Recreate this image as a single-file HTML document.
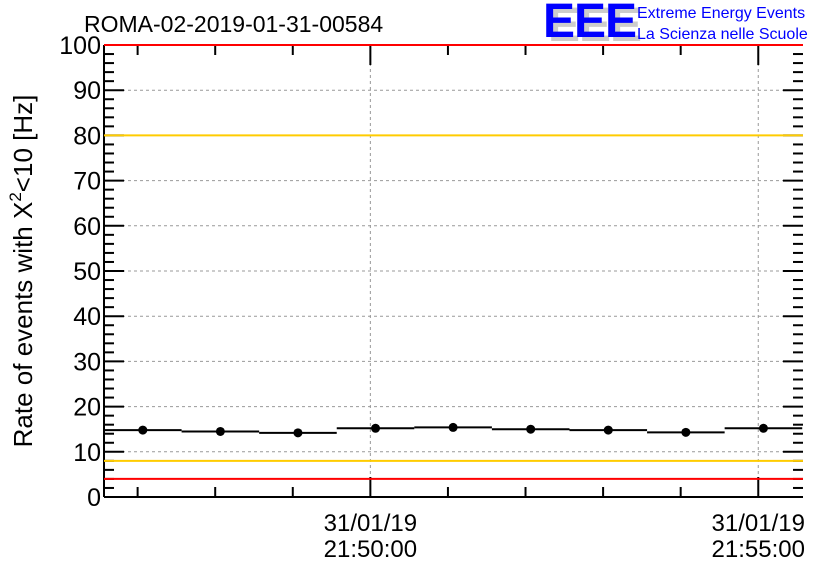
<!DOCTYPE html>
<html><head><meta charset="utf-8"><style>
body{margin:0;background:#fff;width:836px;height:572px;overflow:hidden}
text{font-family:"Liberation Sans",sans-serif}
</style></head><body>
<svg id="chart" width="836" height="572" xmlns="http://www.w3.org/2000/svg">
<text x="84" y="32" font-size="23">ROMA-02-2019-01-31-00584</text>
<g>
<text x="548" y="41" font-size="48" font-weight="bold" fill="#ccc" letter-spacing="-1">EEE</text>
<text x="543" y="37" font-size="48" font-weight="bold" fill="#0000ff" letter-spacing="-1">EEE</text>
<text x="637" y="18" font-size="16" fill="#0000ff">Extreme Energy Events</text>
<text x="637" y="39" font-size="16" fill="#0000ff">La Scienza nelle Scuole</text>
</g>
<text transform="translate(32,271) rotate(-90)" text-anchor="middle" font-size="26">Rate of events with X<tspan dy="-11" font-size="17">2</tspan><tspan dy="11">&lt;10 [Hz]</tspan></text>
<g id="grid"></g><g id="axes"></g><g id="marks"></g>
</svg>
<script>
const binStarts = [-206, -146, -86, -26, 34, 94, 154, 214, 274]; // seconds rel. 21:50:00
const rates = [14.8, 14.5, 14.2, 15.2, 15.4, 15.0, 14.8, 14.3, 15.2];
const yTicks = [0,10,20,30,40,50,60,70,80,90,100];
const xMajor = [0, 300];
const xDates = ["31/01/19","31/01/19"];
const xTimes = ["21:50:00","21:55:00"];
const hLines = [{v:100,c:"#ff0000"},{v:80,c:"#ffcc00"},{v:8,c:"#ffcc00"},{v:4,c:"#ff0000"}];
const X0=104,X1=803,Y0=497,Y1=45;
const tMin=-206,tMax=334.6;
const xs=t=>X0+(t-tMin)/(tMax-tMin)*(X1-X0);
const ys=v=>Y0-v/100*(Y0-Y1);
const NS="http://www.w3.org/2000/svg";
function mk(tag,attrs,parent){const e=document.createElementNS(NS,tag);for(const k in attrs)e.setAttribute(k,attrs[k]);parent.appendChild(e);return e;}
const grid=document.getElementById('grid'),axes=document.getElementById('axes'),marks=document.getElementById('marks');
yTicks.forEach(v=>{if(v>0&&v<100){const g=mk('line',{x1:X0,x2:X1,y1:ys(v),y2:ys(v),stroke:'#999','stroke-dasharray':'3,3'},grid);

}});
xMajor.forEach(t=>{const g=mk('line',{x1:xs(t),x2:xs(t),y1:Y1,y2:Y0,stroke:'#999','stroke-dasharray':'3,3'},grid);

});
hLines.forEach(h=>{const l=mk('line',{x1:X0,x2:X1,y1:ys(h.v),y2:ys(h.v),stroke:h.c,'stroke-width':2},marks);

});
mk('line',{x1:X0,x2:X0,y1:Y1,y2:Y0,stroke:'#000','stroke-width':2},axes);
mk('line',{x1:X0,x2:X1,y1:Y0,y2:Y0,stroke:'#000','stroke-width':2},axes);
for(let v=0;v<=100;v+=2){const major=v%10===0;const L=major?20:10;
mk('line',{x1:X0,x2:X0+L,y1:ys(v),y2:ys(v),stroke:'#000','stroke-width':2},axes);
mk('line',{x1:X1-L,x2:X1,y1:ys(v),y2:ys(v),stroke:'#000','stroke-width':2},axes);}
yTicks.forEach(v=>{const t=mk('text',{x:X0-3,y:ys(v)+9,'text-anchor':'end','font-size':25},axes);t.textContent=v;

});
for(let t=-180;t<=330;t+=60){const major=t%300===0;const L=major?20:10;
mk('line',{x1:xs(t),x2:xs(t),y1:Y0,y2:Y0-L,stroke:'#000','stroke-width':2},axes);
mk('line',{x1:xs(t),x2:xs(t),y1:Y1,y2:Y1+L,stroke:'#000','stroke-width':2},axes);}
xMajor.forEach((t,i)=>{const a=mk('text',{x:xs(t),y:531,'text-anchor':'middle','font-size':24},axes);a.textContent=xDates[i];


const b=mk('text',{x:xs(t),y:557,'text-anchor':'middle','font-size':24},axes);b.textContent=xTimes[i];

});
rates.forEach((r,i)=>{const s=binStarts[i];
const l=mk('line',{x1:xs(s),x2:xs(s+60),y1:ys(r),y2:ys(r),stroke:'#000','stroke-width':2},marks);


const c=mk('circle',{cx:xs(s+30),cy:ys(r),r:4.5,fill:'#000'},marks);

});
</script>
</body></html>
